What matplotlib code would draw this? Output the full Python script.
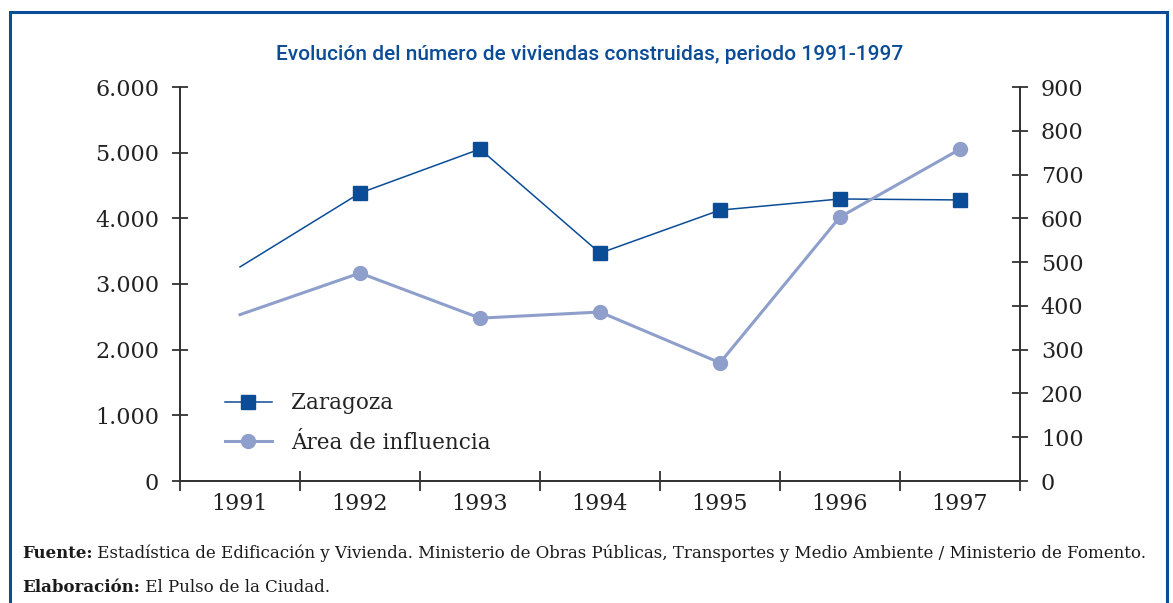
import matplotlib
matplotlib.use("Agg")
import matplotlib.pyplot as plt
from matplotlib.lines import Line2D

years = ["1991", "1992", "1993", "1994", "1995", "1996", "1997"]
zaragoza = [3260, 4385, 5055, 3470, 4125, 4295, 4280]
area_influencia = [380, 475, 372, 386, 270, 603, 758]
left_ticks = [0, 1000, 2000, 3000, 4000, 5000, 6000]
left_labels = ["0", "1.000", "2.000", "3.000", "4.000", "5.000", "6.000"]
right_ticks = [0, 100, 200, 300, 400, 500, 600, 700, 800, 900]

title = "Evolución del número de viviendas construidas, periodo 1991-1997"
src_bold = "Fuente:"
src_text = " Estadística de Edificación y Vivienda. Ministerio de Obras Públicas, Transportes y Medio Ambiente / Ministerio de Fomento."
elab_bold = "Elaboración:"
elab_text = " El Pulso de la Ciudad."

DARK = "#0b4c97"
LIGHT = "#8f9fcc"
AXC = "#333333"
SERIF = "DejaVu Serif"
TXT = "#222222"

W, H = 1173, 603
fig = plt.figure(figsize=(W / 100, H / 100), dpi=100)

# outer frame (left, top, right)
fx0, fx1, fy1 = 10 / W, 1167 / W, 1 - 12 / H
fig.add_artist(Line2D([fx0, fx0, fx1, fx1], [0, fy1, fy1, 0],
                      transform=fig.transFigure, color=DARK, lw=2.2,
                      solid_joinstyle="miter"))

ax = fig.add_axes([180 / W, 1 - 481 / H, 840 / W, 394 / H])
ax2 = ax.twinx()

x = list(range(len(years)))
ax.plot(x, zaragoza, color=DARK, lw=1.1, marker="s", markersize=9.5,
        markevery=list(range(1, len(years))), zorder=3)
ax2.plot(x, area_influencia, color=LIGHT, lw=2.2, marker="o", markersize=10,
         markevery=list(range(1, len(years))), zorder=3)

ax.set_xlim(-0.5, len(years) - 0.5)
ax.set_ylim(0, 6000)
ax2.set_ylim(0, 900)

for a in (ax, ax2):
    a.spines["top"].set_visible(False)
    for s in ("left", "right", "bottom"):
        a.spines[s].set_color(AXC)
        a.spines[s].set_linewidth(1.3)

FS = 16
ax.set_yticks(left_ticks)
ax.set_yticklabels(left_labels, fontfamily=SERIF, fontsize=FS, color=TXT)
ax2.set_yticks(right_ticks)
ax2.set_yticklabels([str(v) for v in right_ticks], fontfamily=SERIF, fontsize=FS, color=TXT)
ax.tick_params(axis="y", direction="inout", length=12, width=1.3, color=AXC, pad=9)
ax2.tick_params(axis="y", direction="inout", length=12, width=1.3, color=AXC, pad=9)

ax.set_xticks([i + 0.5 for i in range(-1, len(years))])
ax.set_xticklabels([])
ax.set_xticks(x, minor=True)
ax.set_xticklabels(years, minor=True, fontfamily=SERIF, fontsize=FS, color=TXT)
ax.tick_params(axis="x", which="major", direction="inout", length=14, width=1.3, color=AXC)
ax.tick_params(axis="x", which="minor", length=0, pad=9)

handles = [
    Line2D([], [], color=DARK, lw=1.1, marker="s", markersize=9.5),
    Line2D([], [], color=LIGHT, lw=2.2, marker="o", markersize=10),
]
leg = ax.legend(handles, ["Zaragoza", "Área de influencia"], loc="lower left",
                bbox_to_anchor=(0.03, 0.02), frameon=False,
                prop={"family": SERIF, "size": 15.5}, handlelength=2.2,
                handletextpad=0.9, labelspacing=0.82, labelcolor=TXT)

fig.text(590 / W, 1 - 55 / H, title, ha="center", va="center",
         fontfamily="Roboto", fontweight="medium", fontsize=15, color=DARK)

fig.canvas.draw()
r = fig.canvas.get_renderer()
for yy, b, t in ((553, src_bold, src_text), (587, elab_bold, elab_text)):
    tb = fig.text(22 / W, 1 - yy / H, b, ha="left", va="center", fontfamily=SERIF,
                  fontweight="bold", fontsize=12.0, color="#1a1a1a")
    bb = tb.get_window_extent(renderer=r)
    fig.text(bb.x1 / W, 1 - yy / H, t, ha="left", va="center", fontfamily=SERIF,
             fontsize=12.0, color="#1a1a1a")

fig.savefig("out.png", dpi=100)
